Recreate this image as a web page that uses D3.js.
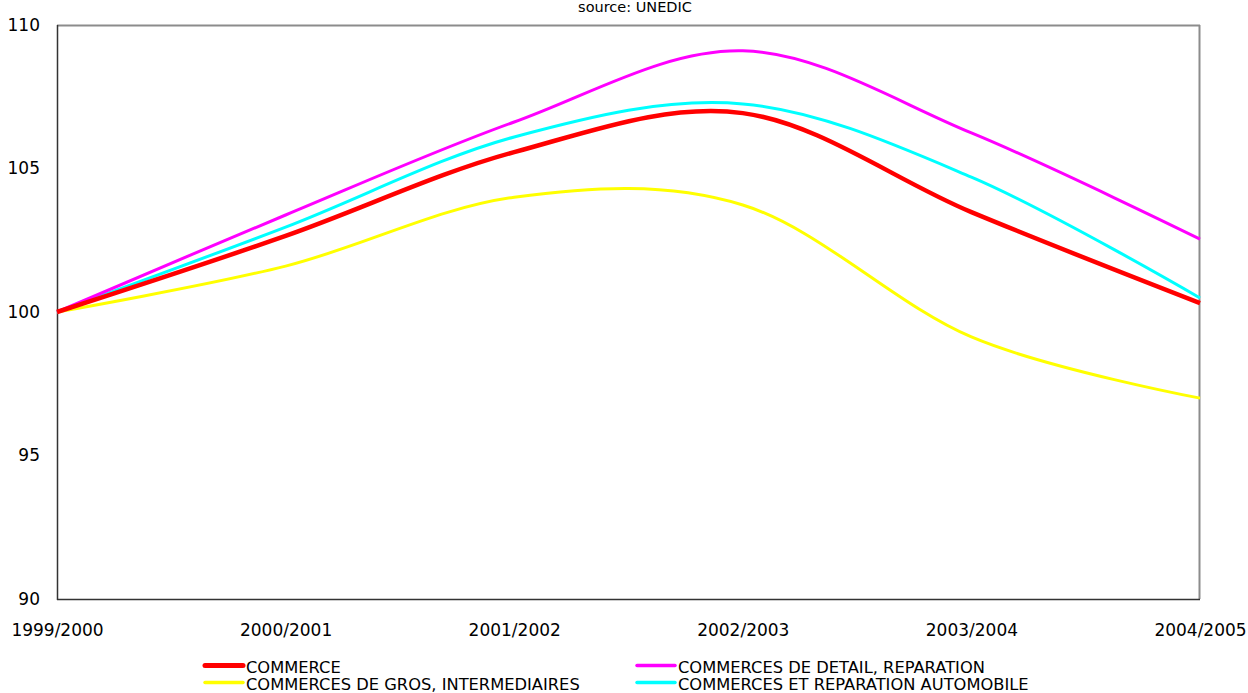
<!DOCTYPE html>
<html>
<head>
<meta charset="utf-8">
<script src="https://cdn.jsdelivr.net/npm/d3@7"></script>
<style>
  html, body { margin: 0; padding: 0; background: #fff; }
  svg { display: block; font-family: "DejaVu Sans", sans-serif; }
</style>
</head>
<body>
<svg id="chart" width="1248" height="693"></svg>
<script>
// Employment index by sector, base 100 in 1999/2000
const periods = ["1999/2000", "2000/2001", "2001/2002", "2002/2003", "2003/2004", "2004/2005"];
const commerce      = [100, 102.65, 105.57, 106.93, 103.48, 100.31];
const detail        = [100, 103.38, 106.62, 109.10, 106.24, 102.54];
const gros          = [100, 101.60, 104.00, 103.73, 99.13, 97.00];
const automobile    = [100, 102.96, 106.10, 107.25, 104.70, 100.49];
const yTicks = [90, 95, 100, 105, 110];

const seriesList = [
  { name: "COMMERCE", values: commerce, color: "#ff0000", width: 4.5 },
  { name: "COMMERCES DE DETAIL, REPARATION", values: detail, color: "#ff00ff", width: 3 },
  { name: "COMMERCES DE GROS, INTERMEDIAIRES", values: gros, color: "#ffff00", width: 3 },
  { name: "COMMERCES ET REPARATION AUTOMOBILE", values: automobile, color: "#00ffff", width: 3 }
];

const svg = d3.select("#chart");
const plotLeft = 57, plotRight = 1200, plotTop = 25, plotBottom = 599;

const x = d3.scalePoint().domain(periods).range([plotLeft, plotRight]);
const y = d3.scaleLinear().domain([90, 110]).range([plotBottom, plotTop]);

// caption
svg.append("text")
  .attr("x", 635).attr("y", 12)
  .attr("text-anchor", "middle")
  .attr("font-size", 14.5)
  .attr("fill", "#000")
  .text("source: UNEDIC");

// y axis labels
const yAxis = d3.axisLeft(y).tickValues(yTicks).tickSize(0).tickPadding(17);
svg.append("g")
  .attr("transform", `translate(${plotLeft},0)`)
  .call(yAxis)
  .call(g => g.select(".domain").remove())
  .call(g => g.selectAll("text").attr("font-size", 17).attr("font-family", "DejaVu Sans").attr("fill", "#000"));

// x axis labels
const xAxis = d3.axisBottom(x).tickSize(0).tickPadding(25);
svg.append("g")
  .attr("transform", `translate(0,${plotBottom})`)
  .call(xAxis)
  .call(g => g.select(".domain").remove())
  .call(g => g.selectAll("text").attr("font-size", 17).attr("font-family", "DejaVu Sans").attr("fill", "#000"));

// plot frame: light top/right, dark left/bottom
svg.append("line").attr("x1", plotLeft).attr("x2", plotRight).attr("y1", plotTop + 0.5).attr("y2", plotTop + 0.5)
  .attr("stroke", "#8c8c8c").attr("stroke-width", 2);
svg.append("line").attr("x1", plotRight - 0.5).attr("x2", plotRight - 0.5).attr("y1", plotTop).attr("y2", plotBottom)
  .attr("stroke", "#8c8c8c").attr("stroke-width", 2);
svg.append("line").attr("x1", plotLeft + 0.5).attr("x2", plotLeft + 0.5).attr("y1", plotTop).attr("y2", plotBottom + 1)
  .attr("stroke", "#333").attr("stroke-width", 1.5);
svg.append("line").attr("x1", plotLeft).attr("x2", plotRight).attr("y1", plotBottom + 0.5).attr("y2", plotBottom + 0.5)
  .attr("stroke", "#333").attr("stroke-width", 1.5);

// smoothed series lines
const line = d3.line()
  .x((d, i) => x(periods[i]))
  .y(d => y(d))
  .curve(d3.curveCardinal.tension(0));

const drawOrder = [2, 3, 1, 0];
drawOrder.forEach(k => {
  const s = seriesList[k];
  svg.append("path")
    .datum(s.values)
    .attr("d", line)
    .attr("fill", "none")
    .attr("stroke", s.color)
    .attr("stroke-width", s.width)
    .attr("stroke-linejoin", "round");
});

// legend: two columns, two rows
const legendPos = [
  { lx: 205, ty: 673 },
  { lx: 637, ty: 673 },
  { lx: 205, ty: 690 },
  { lx: 637, ty: 690 }
];
const legend = svg.append("g");
seriesList.forEach((s, i) => {
  const p = legendPos[i];
  const g = legend.append("g");
  g.append("line")
    .attr("x1", p.lx).attr("x2", p.lx + 38)
    .attr("y1", p.ty - 7.5).attr("y2", p.ty - 7.5)
    .attr("stroke", s.color)
    .attr("stroke-width", i === 0 ? 5 : 3.5)
    .attr("stroke-linecap", "round");
  g.append("text")
    .attr("x", p.lx + 41).attr("y", p.ty)
    .attr("font-size", 16.3)
    .attr("fill", "#000")
    .text(s.name);
});
</script>
</body>
</html>
